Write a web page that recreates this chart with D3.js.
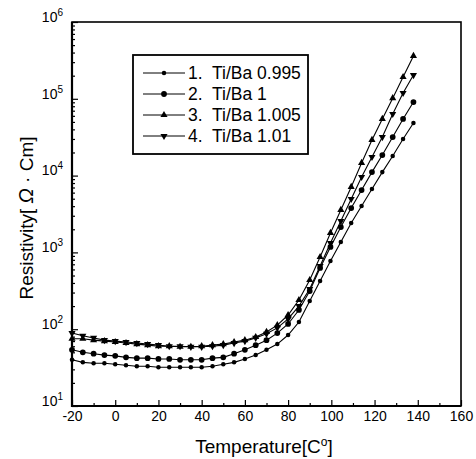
<!DOCTYPE html>
<html>
<head>
<meta charset="utf-8">
<script src="https://cdn.jsdelivr.net/npm/d3@7"></script>
<style>
  html, body { margin: 0; padding: 0; background: #fff; }
  text { font-family: "Liberation Sans", Arial, Helvetica, sans-serif; fill: #000; }
</style>
</head>
<body>
<div id="chart"></div>
<script>
// --- data ---
const temps = [-20, -15, -10, -5, 0, 5, 10, 15, 20, 25, 30, 35, 40, 45, 50, 55, 60, 65, 70, 75, 80, 85, 90,
    94.8, 99.6, 104.4, 109.2, 114, 118.8, 123.6, 128.4, 133.2, 138];

// Ti/Ba 0.995
const rho1 = [40, 37, 36, 36, 35, 34, 33, 33, 32, 32, 32, 32, 32, 33, 35, 37, 41, 46, 54, 64, 84, 124, 233,
    424, 773, 1366, 2410, 4020, 6690, 11100, 18000, 30000, 48400];
// Ti/Ba 1
const rho2 = [54, 50, 48, 46, 45, 43, 42, 42, 41, 41, 40, 40, 40, 42, 43, 48, 54, 62, 72, 89, 117, 178, 314,
    627, 1176, 2140, 3780, 6490, 11100, 18500, 31800, 54600, 90800];
// Ti/Ba 1.005
const rho3 = [75, 75, 72, 70, 68, 66, 64, 62, 60, 60, 59, 59, 60, 62, 64, 68, 72, 79, 92, 113, 153, 240, 437,
    871, 1790, 3570, 7110, 14600, 29100, 54600, 102000, 192000, 361000];
// Ti/Ba 1.01
const rho4 = [89, 82, 77, 72, 70, 68, 66, 64, 62, 60, 60, 59, 59, 60, 62, 66, 70, 77, 87, 104, 136, 200, 334,
    665, 1325, 2560, 4960, 9590, 17500, 31800, 63400, 119000, 204000];

const seriesLabels = ["1.  Ti/Ba 0.995", "2.  Ti/Ba 1", "3.  Ti/Ba 1.005", "4.  Ti/Ba 1.01"];
const xTicks = [-20, 0, 20, 40, 60, 80, 100, 120, 140, 160];
const yTicks = [1e1, 1e2, 1e3, 1e4, 1e5, 1e6];

// --- drawing ---
let wSvg = 476, hSvg = 459;
let padL = 72, padR = 461, padT = 22, padB = 406;

let svg = d3.select("#chart").append("svg")
    .attr("width", wSvg).attr("height", hSvg);

svg.append("rect").attr("width", wSvg).attr("height", hSvg).attr("fill", "#fff");

const xScale = d3.scaleLinear().domain([-20, 160]).range([padL, padR]);
const yScale = d3.scaleLog().domain([1e1, 1e6]).range([padB, padT]);

// minor ticks
let xMinor = xTicks.slice(0, -1).map(t => t + 10);
let yMinor = [];
for (let d of yTicks.slice(0, -1)) {
    for (let k = 2; k <= 9; k++) yMinor.push(d * k);
}

svg.append("g")
    .attr("transform", `translate(0, ${padB})`)
    .call(d3.axisBottom(xScale).tickValues(xMinor).tickSize(-3).tickFormat(""))
    .call(g => g.select(".domain").remove());

svg.append("g")
    .attr("transform", `translate(${padL}, 0)`)
    .call(d3.axisLeft(yScale).tickValues(yMinor).tickSize(-3).tickFormat(""))
    .call(g => g.select(".domain").remove());

let xAxis = svg.append("g")
    .attr("transform", `translate(0, ${padB})`)
    .call(d3.axisBottom(xScale).tickValues(xTicks).tickSize(-6).tickPadding(5).tickFormat(d => String(d)));
xAxis.select(".domain").remove();
xAxis.selectAll("text").attr("font-size", 14).attr("font-family", null);

let yAxis = svg.append("g")
    .attr("transform", `translate(${padL}, 0)`)
    .call(d3.axisLeft(yScale).tickValues(yTicks).tickSize(-6).tickPadding(9));
yAxis.select(".domain").remove();
yAxis.selectAll("text")
    .attr("font-size", 14).attr("font-family", null).attr("dy", "-0.05em")
    .each(function (d) {
        let t = d3.select(this);
        t.text("10");
        t.append("tspan").attr("font-size", 10).attr("dy", "-0.6em").text(Math.round(Math.log10(d)));
    });

svg.selectAll(".tick line").attr("stroke", "#000").attr("stroke-width", 1.2);

// frame
svg.append("rect")
    .attr("x", padL).attr("y", padT)
    .attr("width", padR - padL).attr("height", padB - padT)
    .attr("fill", "none").attr("stroke", "#000").attr("stroke-width", 1.6);
svg.append("path")
    .attr("d", `M${padL},${padT}V${padB}H${padR}`)
    .attr("fill", "none").attr("stroke", "#000").attr("stroke-width", 2.2);

// series
const allSeries = [rho1, rho2, rho3, rho4];
const markers = [
    d3.symbol().type(d3.symbolCircle).size(16),
    d3.symbol().type(d3.symbolCircle).size(26),
    d3.symbol().type(d3.symbolTriangle).size(22),
    d3.symbol().type(d3.symbolTriangle).size(22)
];
const markerRotate = [0, 0, 0, 180];

let line = d3.line()
    .x(d => xScale(d.t))
    .y(d => yScale(d.v));

allSeries.forEach((vals, i) => {
    let pts = temps.map((t, j) => ({ t: t, v: vals[j] }));
    svg.append("path")
        .datum(pts)
        .attr("d", line)
        .attr("fill", "none").attr("stroke", "#000").attr("stroke-width", 1.1);
    svg.append("g").selectAll("path")
        .data(pts)
        .enter()
        .append("path")
        .attr("d", markers[i])
        .attr("transform", d => `translate(${xScale(d.t)}, ${yScale(d.v)}) rotate(${markerRotate[i]})`)
        .attr("fill", "#000");
});

// legend
let legend = svg.append("g");
legend.append("rect")
    .attr("x", 133).attr("y", 55).attr("width", 175).attr("height", 99)
    .attr("fill", "#fff").attr("stroke", "#000").attr("stroke-width", 1.8);

seriesLabels.forEach((label, i) => {
    let ly = 73 + i * 21;
    legend.append("line")
        .attr("x1", 143).attr("x2", 185).attr("y1", ly).attr("y2", ly)
        .attr("stroke", "#000").attr("stroke-width", 1);
    legend.append("path")
        .attr("d", markers[i])
        .attr("transform", `translate(164, ${ly}) rotate(${markerRotate[i]})`)
        .attr("fill", "#000");
    legend.append("text")
        .attr("x", 188).attr("y", ly + 6)
        .attr("font-size", 17.5)
        .attr("xml:space", "preserve")
        .text(label);
});

// axis titles
let xTitle = svg.append("text")
    .attr("x", 264).attr("y", 453)
    .attr("text-anchor", "middle").attr("font-size", 19)
    .text("Temperature[C");
xTitle.append("tspan").attr("font-size", 12).attr("dy", "-0.6em").text("o");
xTitle.append("tspan").attr("dy", "0.4em").text("]");

let yTitle = svg.append("text")
    .attr("transform", `translate(33, 218) rotate(-90)`)
    .attr("text-anchor", "middle").attr("font-size", 19)
    .attr("xml:space", "preserve")
    .text("Resistivity[ ");
yTitle.append("tspan").attr("font-style", "italic").attr("font-size", 20).text("Ω");
yTitle.append("tspan").text(" · Cm]");
</script>
</body>
</html>
